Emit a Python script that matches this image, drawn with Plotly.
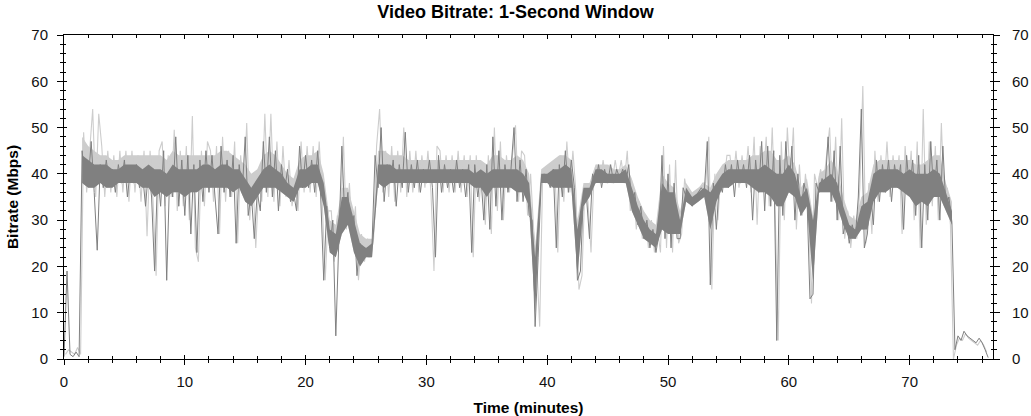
import plotly.graph_objects as go

# Dark series: sampled every 0.25 min starting at t=0 (Mbps)
dark_step = 0.25
dark_values = [
    0.5, 19, 1, 0.5,
    1.5, 0.5, 45, 38,
    38, 47, 36, 23.5,
    42, 37, 43, 38,
    41, 36, 42, 38,
    43, 35, 41, 38,
    42, 37, 40, 33,
    41, 35, 19, 40,
    33, 45, 17, 40,
    35, 48, 33, 43,
    31, 44, 27, 42,
    23, 43, 34, 45,
    36, 44, 35, 27,
    46, 36, 43, 35,
    44, 25, 42, 36,
    48, 31, 36, 26,
    36, 32, 47, 36,
    48, 35, 45, 32,
    42, 36, 41, 34,
    36, 32, 46, 37,
    44, 37, 43, 36,
    45, 35, 17, 33,
    24, 30, 5, 28,
    46, 30, 36, 27,
    31, 18, 25, 22,
    24, 22, 25, 44,
    37, 50, 34, 42,
    38, 43, 33, 42,
    37, 49, 36, 42,
    37, 43, 36, 41,
    38, 43, 37, 22,
    44, 36, 42, 37,
    41, 36, 43, 37,
    41, 35, 42, 23,
    42, 35, 40, 30,
    42, 28, 48, 33,
    45, 30, 42, 36,
    41, 50, 34, 43,
    34, 41, 31, 30,
    7, 22, 38, 40,
    39, 37, 41, 24,
    42, 35, 45, 36,
    43, 37, 17, 19,
    36, 35, 26, 40,
    38, 42, 37, 41,
    38, 42, 38, 41,
    39, 41, 38, 42,
    33, 36, 29, 33,
    26, 30, 24, 28,
    23, 27, 44, 26,
    40, 24, 38, 26,
    26, 37, 35, 34,
    33, 35, 36, 37,
    36, 47, 16, 38,
    28, 38, 36, 42,
    37, 42, 35, 43,
    38, 42, 37, 44,
    30, 43, 36, 47,
    32, 46, 33, 45,
    4, 44, 31, 47,
    36, 46, 30, 40,
    31, 38, 35, 13,
    14, 38, 36, 39,
    37, 48, 34, 45,
    30, 46, 27, 30,
    25, 29, 26, 35,
    54, 24, 27, 36,
    29, 43, 34, 42,
    36, 43, 34, 42,
    37, 42, 28, 44,
    36, 43, 31, 44,
    24, 42, 30, 47,
    35, 43, 30, 46,
    33, 35, 29.5, 2,
    5, 4, 6, 5,
    4.5, 4, 3.5, 4.5,
    3.5, 2, 0.3,
]

# Light series: sampled every 0.25 min starting at t=0.125 (Mbps)
light_start = 0.125
light_step = 0.25
light_values = [
    1, 2, 1.5, 1,
    2.5, 1, 49, 36,
    45, 54, 35, 53,
    46, 35, 45, 36,
    44, 35, 45, 36,
    45, 34, 45, 36,
    44, 34, 45, 26.5,
    45, 34, 18, 45,
    47, 33, 44, 35,
    49.5, 32, 45, 33,
    46, 30, 52.5, 24,
    21, 45, 33, 47,
    45, 34, 46, 27,
    48, 34, 45, 35,
    47, 25, 44, 35,
    51, 30, 40, 24,
    38, 34, 53, 35,
    53, 34, 47, 33,
    46, 35, 43, 33,
    38, 32, 47, 36,
    46, 36, 46, 35,
    47, 34, 17, 32,
    32, 21, 31, 26,
    48, 28, 38, 26,
    33, 17, 27, 21,
    26, 22, 26, 46,
    54, 36, 45, 35,
    46, 34, 45, 36,
    50, 35, 45, 36,
    45, 36, 44, 37,
    45, 36, 19, 46,
    45, 36, 44, 36,
    44, 36, 45, 36,
    44, 35, 44, 22,
    44, 34, 42, 29,
    44, 27, 50, 32,
    47, 30, 44, 36,
    44, 50.5, 34, 45,
    44, 31, 40, 28,
    21, 7, 40, 38,
    42, 37, 42, 23,
    44, 34, 47, 36,
    45, 36, 15, 18,
    38, 34, 23, 40,
    42, 38, 43, 38,
    42, 38, 43, 39,
    43, 38, 45, 32,
    37, 28, 34, 26,
    31, 24, 30, 23,
    28, 23, 46, 24,
    42, 23, 43, 25,
    27, 39, 35, 36,
    34, 36, 37, 38,
    38, 48, 15, 40,
    30, 40, 38, 44,
    44, 38, 45, 37,
    44, 38, 46, 36,
    48, 29, 46, 38,
    48, 33, 50, 31,
    4, 47, 30, 50,
    38, 50, 28, 42,
    31, 40, 33, 12,
    40, 37, 41, 38,
    44, 50, 34, 48,
    30, 52, 26, 32,
    24, 31, 26, 37,
    59, 25, 38, 27,
    45, 34, 44, 36,
    47, 35, 44, 37,
    44, 27, 46, 36,
    45, 30, 47, 24,
    54, 29, 47, 33,
    46, 30, 51, 33,
    37, 29, 0, 3,
    4.5, 4, 5.5, 4.5,
    4, 3.5, 3, 4,
    3, 1.5,
]

# Dense core of the trace (every 0.5 min from t=1.5 to t=73.5):
# lower and upper edge of the dark band, and top of the light band (Mbps)
core_start = 1.5
core_step = 0.5
core_lo = [
    38, 37, 37, 38, 37, 37, 38, 38, 38, 38,
    37, 37, 35, 36, 35, 36, 36, 35, 36, 36,
    37, 37, 37, 37, 37, 36, 37, 34, 33, 35,
    37, 37, 37, 36, 35, 34, 37, 37, 38, 38,
    33, 23, 22, 27, 29, 23, 20, 22, 22, 38,
    37, 38, 38, 38, 38, 38, 38, 38, 38, 38,
    38, 38, 38, 38, 38, 37, 37, 35, 37, 37,
    37, 37, 36, 36, 33, 10, 38, 38, 37, 37,
    37, 37, 18, 33, 35, 38, 38, 38, 38, 38,
    38, 32, 29, 26, 25, 24, 28, 27, 27, 27,
    34, 33, 34, 35, 28, 34, 37, 37, 38, 38,
    38, 37, 36, 36, 35, 33, 33, 36, 35, 31,
    33, 17, 36, 36, 36, 33, 29, 26, 26, 28,
    28, 34, 36, 36, 37, 37, 36, 35, 33, 34,
    33, 35, 35, 32, 29,
]
core_hi = [
    44, 43, 42, 42, 42, 41, 41, 42, 42, 42,
    41, 42, 41, 41, 40, 42, 41, 41, 41, 41,
    42, 42, 41, 42, 42, 41, 41, 39, 37, 39,
    41, 42, 41, 40, 38, 37, 41, 41, 42, 42,
    38, 28, 27, 35, 35, 30, 25, 24, 25, 42,
    42, 42, 41, 41, 41, 41, 41, 41, 41, 41,
    41, 41, 41, 41, 41, 40, 41, 40, 41, 41,
    41, 41, 41, 40, 38, 22, 40, 40, 41, 41,
    42, 41, 28, 37, 37, 41, 41, 40, 40, 40,
    41, 37, 33, 30, 28, 27, 38, 36, 36, 30,
    37, 35, 36, 37, 36, 38, 40, 41, 41, 41,
    41, 41, 41, 42, 41, 40, 40, 42, 40, 35,
    37, 30, 38, 39, 40, 38, 33, 29, 28, 33,
    34, 40, 41, 41, 41, 41, 40, 41, 40, 40,
    40, 41, 40, 36, 32,
]
light_top = [
    48, 46, 45, 44, 44, 43, 43, 44, 44, 44,
    44, 44, 44, 44, 43, 45, 44, 44, 44, 44,
    44, 44, 44, 45, 45, 44, 43, 42, 40, 41,
    44, 45, 44, 42, 40, 39, 43, 44, 44, 45,
    40, 30, 29, 37, 37, 32, 27, 26, 26, 45,
    45, 44, 44, 44, 43, 43, 43, 43, 43, 43,
    43, 43, 43, 43, 43, 43, 43, 42, 44, 44,
    43, 43, 44, 43, 40, 24, 41, 42, 43, 44,
    44, 43, 30, 38, 38, 42, 42, 42, 41, 41,
    42, 39, 35, 32, 30, 29, 40, 38, 37, 32,
    38, 36, 37, 38, 37, 40, 42, 43, 43, 43,
    43, 44, 44, 45, 45, 43, 43, 44, 42, 37,
    39, 31, 40, 41, 43, 41, 35, 31, 30, 35,
    36, 42, 43, 43, 43, 43, 43, 43, 42, 42,
    43, 44, 44, 38, 34,
]

x_max = 76.9
y_max = 70

DARK = "#808080"
LIGHT = "#cdcdcd"

dark_t = [i * dark_step for i in range(len(dark_values))]
light_t = [light_start + i * light_step for i in range(len(light_values))]
core_t = [core_start + i * core_step for i in range(len(core_lo))]

fig = go.Figure()
# light band (from dark band bottom up to light top)
fig.add_trace(go.Scatter(x=core_t, y=core_lo, mode="lines", line=dict(width=0, color=LIGHT),
                         xaxis="x", yaxis="y", showlegend=False, hoverinfo="skip"))
fig.add_trace(go.Scatter(x=core_t, y=light_top, mode="lines", line=dict(width=0, color=LIGHT),
                         fill="tonexty", fillcolor=LIGHT,
                         xaxis="x", yaxis="y", showlegend=False, hoverinfo="skip"))
# light spikes
fig.add_trace(go.Scatter(x=light_t, y=light_values, mode="lines",
                         line=dict(color=LIGHT, width=1.1),
                         xaxis="x", yaxis="y", showlegend=False, hoverinfo="skip"))
# dark band core
fig.add_trace(go.Scatter(x=core_t, y=core_lo, mode="lines", line=dict(width=0, color=DARK),
                         xaxis="x2", yaxis="y2", showlegend=False, hoverinfo="skip"))
fig.add_trace(go.Scatter(x=core_t, y=core_hi, mode="lines", line=dict(width=0, color=DARK),
                         fill="tonexty", fillcolor=DARK,
                         xaxis="x2", yaxis="y2", showlegend=False, hoverinfo="skip"))
# dark trace
fig.add_trace(go.Scatter(x=dark_t, y=dark_values, mode="lines",
                         line=dict(color=DARK, width=1.0),
                         xaxis="x2", yaxis="y2", showlegend=False))

font_tick = dict(family="Arial", size=15, color="#111111")
font_title = dict(family="Arial", size=15.5, color="#000000")

fig.update_layout(
    width=1031, height=416,
    margin=dict(l=64, r=38, t=35, b=57),
    paper_bgcolor="white", plot_bgcolor="white",
    title=dict(text="<b>Video Bitrate: 1-Second Window</b>",
               x=0.5, xref="container", xanchor="center",
               y=0.972, yref="container", yanchor="middle",
               font=dict(family="Arial", size=18, color="#000000")),
    xaxis=dict(range=[0, x_max], dtick=10, tick0=0, ticks="outside", ticklen=5,
               tickcolor="black", tickwidth=1,
               minor=dict(dtick=2, ticks="outside", ticklen=3, tickcolor="black"),
               showline=True, linecolor="black", linewidth=1, mirror=True,
               showgrid=False, zeroline=False, tickfont=font_tick,
               ticklabelstandoff=4, automargin=False,
               title=dict(text="<b>Time (minutes)</b>", font=font_title, standoff=16)),
    xaxis2=dict(range=[0, x_max], overlaying="x", side="bottom", dtick=10, tick0=0,
                ticks="inside", ticklen=4, tickcolor="black",
                minor=dict(dtick=2, ticks="inside", ticklen=3, tickcolor="black"),
                mirror="ticks", showline=False, showgrid=False, zeroline=False,
                showticklabels=False, automargin=False),
    yaxis=dict(range=[0, y_max], dtick=10, tick0=0, ticks="outside", ticklen=6,
               tickcolor="black", tickwidth=1,
               minor=dict(dtick=2, ticks="outside", ticklen=3, tickcolor="black"),
               showline=True, linecolor="black", linewidth=1, mirror="ticks",
               showgrid=False, zeroline=False, tickfont=font_tick,
               ticklabelstandoff=6, automargin=False,
               title=dict(text="<b>Bitrate (Mbps)</b>", font=font_title, standoff=8)),
    yaxis2=dict(range=[0, y_max], overlaying="y", side="right", dtick=10, tick0=0,
                ticks="inside", ticklen=3, tickcolor="black",
                minor=dict(dtick=2, ticks="inside", ticklen=2, tickcolor="black"),
                mirror="ticks", showline=False, showgrid=False, zeroline=False,
                showticklabels=True, tickfont=font_tick, ticklabelstandoff=18,
                automargin=False),
)

fig.write_html("out.html", config={"displayModeBar": False},
               post_script="document.body.style.margin='0';")
